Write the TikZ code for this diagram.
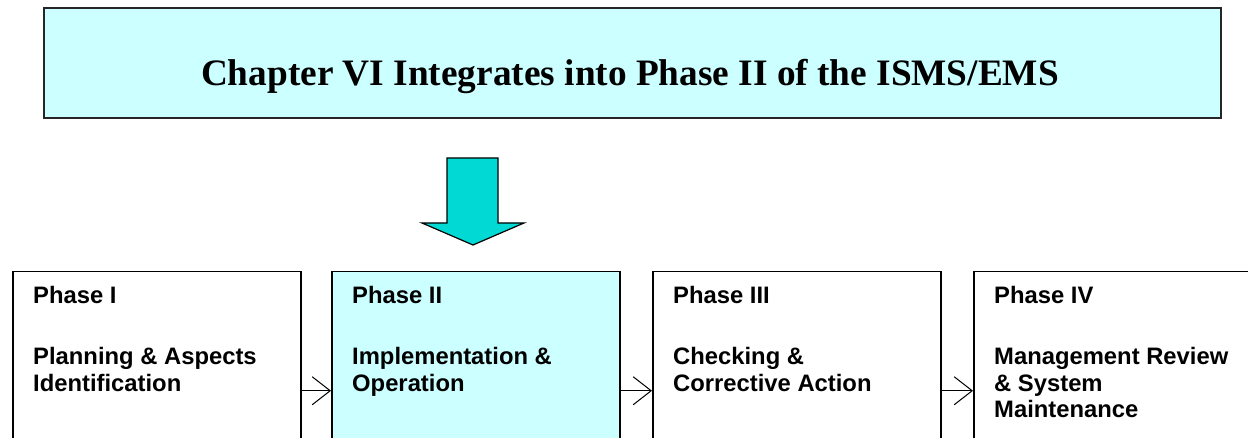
\documentclass[tikz,border=0pt]{standalone}
\usepackage{fontspec}
\setmainfont{Liberation Serif}
\newfontfamily\arialfont{Liberation Sans}
\usetikzlibrary{arrows.meta}
\definecolor{palecyan}{RGB}{204,255,255}
\definecolor{turq}{RGB}{0,217,212}
\newcommand{\phaselines}[1]{\begin{tabular}[t]{@{}l@{}}#1\end{tabular}}
\begin{document}
\begin{tikzpicture}[x=1pt,y=-1pt,
  phasebox/.style={draw=black,line width=1.5pt,minimum width=288pt,minimum height=238pt,anchor=north west,inner sep=0pt},
  phasetext/.style={font=\arialfont\fontsize{23.8}{26.5}\selectfont\bfseries,anchor=base west,inner sep=0pt},
  flow/.style={line width=1pt,-{Straight Barb[length=18pt,width=28pt,line width=1pt]}}]
\useasboundingbox (0,0) rectangle (1248,438);
\clip (0,0) rectangle (1248,438);
% heading box
\node[draw=black!85,line width=2pt,fill=palecyan,minimum width=1177pt,minimum height=110pt,anchor=north west,inner sep=0pt] (head) at (43,7) {};
\node[font=\fontsize{37.3}{40}\selectfont\bfseries,anchor=base,inner sep=0pt] (title) at (630,86) {Chapter VI Integrates into Phase II of the ISMS/EMS};
% block arrow pointing to phase II
\draw[fill=turq,line width=1.2pt,line join=miter] (447,158) -- (498,158) -- (498,223) -- (524,223) -- (473,245) -- (422,223) -- (447,223) -- cycle;
% phase boxes
\node[phasebox] (p1) at (12,271) {};
\node[phasebox,fill=palecyan] (p2) at (331,271) {};
\node[phasebox] (p3) at (652,271) {};
\node[phasebox] (p4) at (973,271) {};
\foreach \p/\a/\b in {p1/Phase I/Planning \& Aspects\\Identification,
                       p2/Phase II/Implementation \&\\Operation,
                       p3/Phase III/Checking \&\\Corrective Action,
                       p4/Phase IV/Management Review\\\& System\\Maintenance}{
  \node[phasetext] (\p-t) at ([shift={(21,33)}]\p.north west) {\a};
  \node[phasetext] (\p-b) at ([shift={(21,94)}]\p.north west) {\phaselines{\b}};
}
% connectors between phases
\draw[flow] (p1.east) -- (p2.west);
\draw[flow] (p2.east) -- (p3.west);
\draw[flow] (p3.east) -- (p4.west);
\end{tikzpicture}
\end{document}
